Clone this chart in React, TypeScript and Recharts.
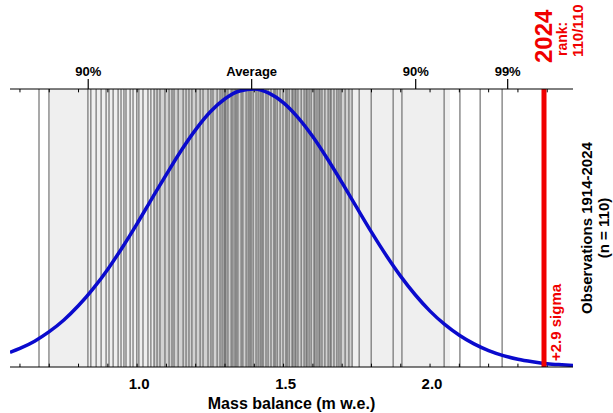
import React from 'react'
import { ComposedChart, Line, XAxis, YAxis, ReferenceLine, ReferenceArea } from 'recharts'

// values
const xDomain = [0.566, 2.488]
const curveX = [0.566, 0.6, 0.65, 0.7, 0.75, 0.8, 0.85, 0.9, 0.95, 1.0, 1.05, 1.1, 1.15, 1.2, 1.25, 1.3, 1.35, 1.4, 1.45, 1.5, 1.55, 1.6, 1.65, 1.7, 1.75, 1.8, 1.85, 1.9, 1.95, 2.0, 2.05, 2.1, 2.15, 2.2, 2.25, 2.3, 2.35, 2.4, 2.45, 2.488]
const curveY = [0.053, 0.067, 0.093, 0.127, 0.169, 0.221, 0.282, 0.352, 0.431, 0.516, 0.605, 0.693, 0.778, 0.854, 0.918, 0.965, 0.993, 1.0, 0.985, 0.95, 0.896, 0.828, 0.748, 0.662, 0.573, 0.485, 0.402, 0.326, 0.259, 0.201, 0.153, 0.114, 0.083, 0.059, 0.041, 0.028, 0.019, 0.012, 0.008, 0.0055]
const observations = [
  0.665, 0.699, 0.832, 0.842, 0.86, 0.877, 0.894, 0.904, 0.918, 0.935, 0.945, 0.955, 0.962, 0.976, 0.986, 0.999,
  1.006, 1.02, 1.037, 1.047, 1.058, 1.068, 1.078, 1.095, 1.109, 1.119, 1.126, 1.14, 1.157, 1.167, 1.177, 1.187,
  1.201, 1.215, 1.225, 1.242, 1.252, 1.259, 1.273, 1.283, 1.29, 1.297, 1.3, 1.303, 1.31, 1.321, 1.327, 1.334,
  1.338, 1.344, 1.355, 1.361, 1.372, 1.379, 1.385, 1.389, 1.396, 1.406, 1.413, 1.42, 1.426, 1.43, 1.44, 1.447,
  1.457, 1.467, 1.471, 1.478, 1.488, 1.498, 1.508, 1.512, 1.519, 1.529, 1.532, 1.539, 1.542, 1.549, 1.56, 1.57,
  1.577, 1.58, 1.587, 1.594, 1.604, 1.607, 1.614, 1.621, 1.624, 1.631, 1.641, 1.652, 1.659, 1.662, 1.672, 1.682,
  1.689, 1.696, 1.71, 1.723, 1.734, 1.758, 1.799, 1.874, 1.904, 2.048, 2.102, 2.171, 2.246,
]
const year2024 = 2.389
// band edges: outer (light) and inner (darker) shading
const outerBand = [0.702, 2.068]
const innerBand = [1.054, 1.734]
const bottomTicks = [1.0, 1.5, 2.0]
const minorTicks = [0.6, 0.7, 0.8, 0.9, 1.0, 1.1, 1.2, 1.3, 1.4, 1.5, 1.6, 1.7, 1.8, 1.9, 2.0, 2.1, 2.2, 2.3, 2.4]
const topTickValues = [0.833, 1.391, 1.951, 2.265]
const topTickLabels = ['90%', 'Average', '90%', '99%']

const curveData = curveX.map((x, i) => ({ x, y: curveY[i] }))

const FONT = '"Liberation Sans", Arial, Helvetica, sans-serif'
const RED = '#f00000'

const YearLabel = (props: any) => {
  const { x, y, height } = props.viewBox
  const top = y
  const bottom = y + height
  return (
    <g fontFamily={FONT} fontWeight="bold" fill={RED}>
      <text transform={`translate(${x - 1},${top - 26}) rotate(-90)`} dy="0.36em" fontSize={24}>2024</text>
      <text transform={`translate(${x + 18},${top - 33}) rotate(-90)`} dy="0.36em" fontSize={14}>rank:</text>
      <text transform={`translate(${x + 34},${top - 32}) rotate(-90)`} dy="0.36em" fontSize={15}>110/110</text>
      <text transform={`translate(${x + 12},${bottom - 6}) rotate(-90)`} dy="0.36em" fontSize={15}>+2.9 sigma</text>
    </g>
  )
}

const ObsLabel = (props: any) => {
  const { x, y, height } = props.viewBox
  const cy = y + height / 2
  return (
    <g fontFamily={FONT} fontWeight="bold" fill="#000" textAnchor="middle">
      <text transform={`translate(${x + 14},${cy}) rotate(-90)`} dy="0.36em" fontSize={15}>Observations 1914-2024</text>
      <text transform={`translate(${x + 31},${cy}) rotate(-90)`} dy="0.36em" fontSize={15}>(n = 110)</text>
    </g>
  )
}

const App = () => {
  return (
    <div style={{ position: 'absolute', left: 0, top: 0, background: '#fff' }}>
      <ComposedChart width={613} height={413} data={curveData} margin={{ top: 59, right: 0, left: 10, bottom: 0 }}>
        <XAxis
          dataKey="x"
          type="number"
          domain={xDomain}
          allowDataOverflow
          ticks={bottomTicks}
          tickFormatter={(v: number) => v.toFixed(1)}
          tickLine={false}
          tickSize={6}
          tickMargin={5}
          axisLine={{ stroke: '#000', strokeWidth: 1 }}
          tick={{ fill: '#000', fontSize: 15, fontWeight: 'bold', fontFamily: FONT, dx: 2 }}
          height={46}
          label={{ value: 'Mass balance (m w.e.)', position: 'insideBottom', offset: 4, fill: '#000', fontSize: 16, fontWeight: 'bold', fontFamily: FONT }}
        />
        <XAxis
          xAxisId="top"
          orientation="top"
          dataKey="x"
          type="number"
          domain={xDomain}
          allowDataOverflow
          ticks={topTickValues}
          tickFormatter={(v: number) => topTickLabels[topTickValues.indexOf(v)]}
          tickSize={10}
          tickMargin={3}
          tickLine={{ stroke: '#000', strokeWidth: 1.2 }}
          axisLine={{ stroke: '#000', strokeWidth: 1 }}
          tick={{ fill: '#000', fontSize: 13, fontWeight: 'bold', fontFamily: FONT }}
          height={30}
        />
        <YAxis hide type="number" domain={[0, 1]} allowDataOverflow />
        <YAxis
          yAxisId="r"
          orientation="right"
          width={40}
          tick={false}
          tickLine={false}
          axisLine={false}
          label={ObsLabel}
        />
        <ReferenceArea x1={outerBand[0]} x2={innerBand[0]} fill="#efefef" fillOpacity={1} stroke="none" />
        <ReferenceArea x1={innerBand[1]} x2={outerBand[1]} fill="#efefef" fillOpacity={1} stroke="none" />
        <ReferenceArea x1={innerBand[0]} x2={innerBand[1]} fill="#d2d2d2" fillOpacity={1} stroke="none" />
        {observations.map((v, i) => (
          <ReferenceLine key={'o' + i} x={v} stroke="#707070" strokeWidth={1.2} />
        ))}
        {minorTicks.map((v) => (
          <ReferenceLine key={'b' + v} segment={[{ x: v, y: 0 }, { x: v, y: 0.012 }]} stroke="#000" strokeWidth={1} />
        ))}
        {minorTicks.map((v) => (
          <ReferenceLine key={'t' + v} segment={[{ x: v, y: 1 }, { x: v, y: 0.988 }]} stroke="#000" strokeWidth={1} />
        ))}
        <Line dataKey="y" type="monotone" stroke="#0a0acd" strokeWidth={3.5} dot={false} activeDot={false} isAnimationActive={false} />
        <ReferenceLine x={year2024} stroke={RED} strokeWidth={5} label={YearLabel} />
      </ComposedChart>
    </div>
  )
}

export default App
